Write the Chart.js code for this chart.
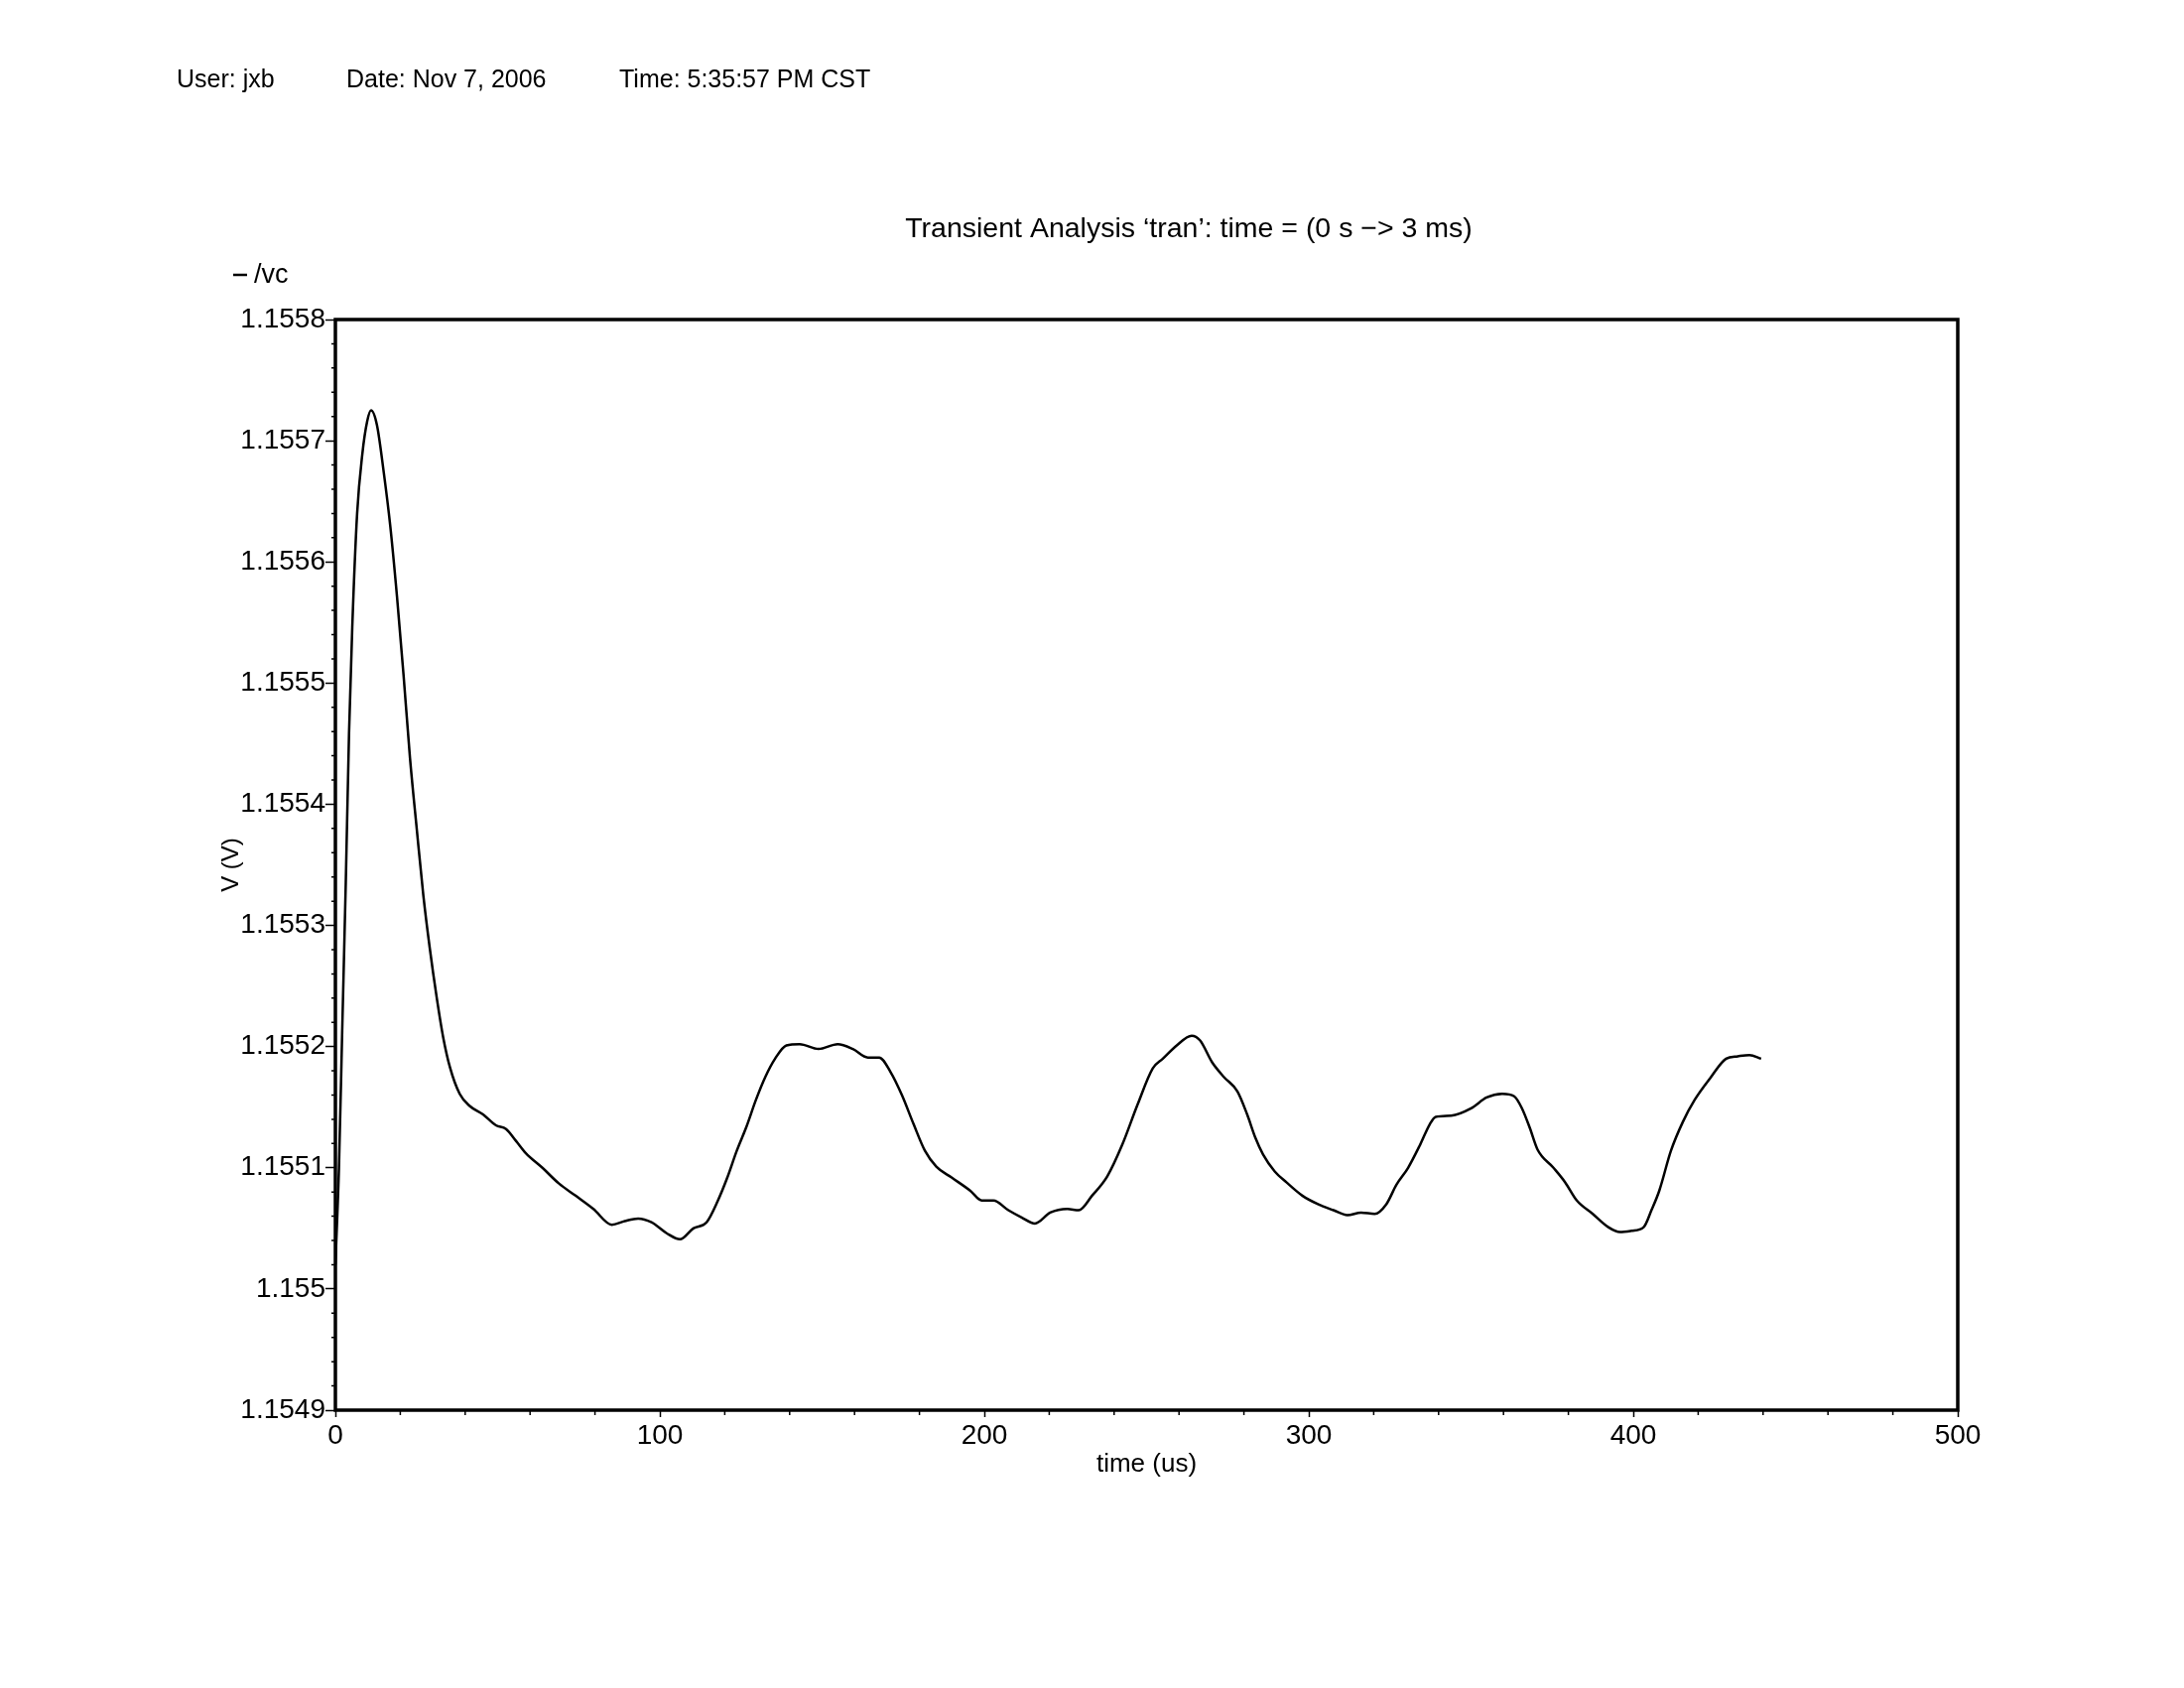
<!DOCTYPE html>
<html>
<head>
<meta charset="utf-8">
<title>Transient Analysis 'tran'</title>
<script src="https://cdn.jsdelivr.net/npm/chart.js@4.4.1/dist/chart.umd.min.js"></script>
<style>
	html, body { margin: 0; padding: 0; background: #fff; }
	canvas { display: block; }
</style>
</head>
<body>
<canvas id="tran-chart" width="2201" height="1701"></canvas>
<script>
// values: time in us, /vc in V
const timeUs = [
	0, 1.1, 2.1, 3.2, 4.2, 5.2, 6.7, 8.3, 9.8, 11.0, 12.8, 14.9, 16.9, 19.0, 21.0,
	23.0, 25.1, 27.1, 29.1, 31.2, 33.2, 35.3, 38.3, 41.4, 45.5, 49.5, 52.6, 55.7,
	58.7, 63.8, 68.9, 74.0, 79.5, 85.2, 89.2, 93.3, 97.4, 102.1, 106.2, 110.3,
	114.4, 117.9, 120.8, 123.7, 126.7, 129.6, 132.5, 135.5, 139, 143.1, 148.9,
	154.8, 159.5, 164.1, 167.6, 171.1, 174.6, 178.2, 181.7, 185.2, 189.9, 195.7,
	199.2, 202.8, 207.4, 211.5, 215.6, 220.3, 225.6, 229.1, 233.2, 237.9, 242.5,
	247.2, 251.9, 255.0, 259.3, 263.9, 266.5, 270.2, 273.8, 278, 281, 283.5,
	285.9, 289.5, 293.1, 298, 302.8, 307.6, 311.9, 316.1, 320.3, 323.9, 327,
	330.6, 334.3, 337.3, 339.1, 343.9, 350, 354.8, 359.6, 363.3, 365.7, 368.1,
	370.5, 375.4, 379, 382.6, 387.5, 392.3, 395.9, 399.5, 403.2, 405.6, 408,
	411.6, 415.3, 418.9, 423.7, 428.6, 432.2, 435.8, 439.4,
];
const vcVolts = [
	1.15502, 1.1551, 1.155213, 1.155335, 1.155458, 1.155546, 1.15564, 1.155689,
	1.155716, 1.155725, 1.155713, 1.155674, 1.15563, 1.155571, 1.155507,
	1.155438, 1.155379, 1.155325, 1.155281, 1.155241, 1.155208, 1.155183,
	1.155161, 1.155151, 1.155144, 1.155135, 1.155132, 1.155122, 1.155112,
	1.1551, 1.155087, 1.155077, 1.155066, 1.155053, 1.155056, 1.155058,
	1.155055, 1.155046, 1.155041, 1.15505, 1.155055, 1.155073, 1.155092,
	1.155114, 1.155134, 1.155156, 1.155175, 1.15519, 1.155201, 1.155202,
	1.155198, 1.155202, 1.155198, 1.155191, 1.155191, 1.155179, 1.15516,
	1.155136, 1.155114, 1.155101, 1.155092, 1.155081, 1.155073, 1.155073,
	1.155065, 1.155059, 1.155054, 1.155063, 1.155066, 1.155065, 1.155077,
	1.155093, 1.155119, 1.155152, 1.155182, 1.15519, 1.155201, 1.155209,
	1.155205, 1.155187, 1.155175, 1.155163, 1.155144, 1.155125, 1.155111,
	1.155097, 1.155088, 1.155077, 1.15507, 1.155065, 1.155061, 1.155063,
	1.155062, 1.15507, 1.155086, 1.1551, 1.155119, 1.155136, 1.155142,
	1.155143, 1.155149, 1.155158, 1.155161, 1.155159, 1.155149, 1.155133,
	1.155115, 1.1551, 1.155088, 1.155073, 1.155062, 1.155051, 1.155047,
	1.155048, 1.155051, 1.155065, 1.155081, 1.155114, 1.155138, 1.155156,
	1.155174, 1.15519, 1.155192, 1.155193, 1.15519,
];

const xTickValues = [0, 100, 200, 300, 400, 500];
const xTickLabels = ['0', '100', '200', '300', '400', '500'];
const yTickValues = [
	1.1549, 1.155, 1.1551, 1.1552, 1.1553, 1.1554, 1.1555, 1.1556, 1.1557, 1.1558,
];
const yTickLabels = [
	'1.1549', '1.155', '1.1551', '1.1552', '1.1553', '1.1554', '1.1555', '1.1556',
	'1.1557', '1.1558',
];
const headerTexts = ['User: jxb', 'Date: Nov 7, 2006', 'Time: 5:35:57 PM CST'];
const plotTitle = 'Transient Analysis \u2018tran\u2019: time = (0 s \u2212> 3 ms)';
const signalName = '/vc';

const FONT = '"Liberation Sans", Arial, Helvetica, sans-serif';

// frame, minor ticks, header, title and signal legend
const pageDecor = {
	id: 'pageDecor',
	afterDraw( chart ) {
		const { ctx, chartArea: area } = chart;
		const xScale = chart.scales.x;
		const yScale = chart.scales.y;
		ctx.save();

		ctx.strokeStyle = '#000';
		ctx.lineWidth = 3.5;
		ctx.strokeRect( area.left, area.top, area.right - area.left, area.bottom - area.top );

		// minor ticks: 5 per major step
		ctx.lineWidth = 1.5;
		ctx.beginPath();
		for ( let i = 0; i < yTickValues.length - 1; i++ ) {
			const step = ( yTickValues[ i + 1 ] - yTickValues[ i ] ) / 5;
			for ( let k = 1; k < 5; k++ ) {
				const py = yScale.getPixelForValue( yTickValues[ i ] + k * step );
				ctx.moveTo( area.left - 4, py );
				ctx.lineTo( area.left, py );
			}
		}
		for ( let i = 0; i < xTickValues.length - 1; i++ ) {
			const step = ( xTickValues[ i + 1 ] - xTickValues[ i ] ) / 5;
			for ( let k = 1; k < 5; k++ ) {
				const px = xScale.getPixelForValue( xTickValues[ i ] + k * step );
				ctx.moveTo( px, area.bottom );
				ctx.lineTo( px, area.bottom + 5 );
			}
		}
		ctx.stroke();

		ctx.fillStyle = '#000';
		ctx.textBaseline = 'alphabetic';
		ctx.textAlign = 'left';
		ctx.font = '25px ' + FONT;
		const headerX = [ 178, 349, 624 ];
		headerTexts.forEach( ( text, i ) => ctx.fillText( text, headerX[ i ], 88 ) );

		ctx.font = '28.5px ' + FONT;
		ctx.textAlign = 'center';
		ctx.fillText( plotTitle, 1198, 239 );

		// signal legend: line sample + name
		ctx.lineWidth = 2.5;
		ctx.beginPath();
		ctx.moveTo( 235, 277 );
		ctx.lineTo( 249, 277 );
		ctx.stroke();
		ctx.font = '27px ' + FONT;
		ctx.textAlign = 'left';
		ctx.fillText( signalName, 256, 285 );

		ctx.restore();
	},
};

const tranConfig = {
	type: 'line',
	data: {
		datasets: [
			{
				label: signalName,
				data: timeUs.map( ( t, i ) => ( { x: t, y: vcVolts[ i ] } ) ),
				borderColor: '#000',
				borderWidth: 2.5,
				pointRadius: 0,
				fill: false,
				cubicInterpolationMode: 'monotone',
			},
		],
	},
	options: {
		responsive: false,
		animation: false,
		layout: {
			padding: { left: 200, top: 322, right: 228, bottom: 200 },
		},
		plugins: {
			legend: { display: false },
			tooltip: { enabled: false },
		},
		scales: {
			x: {
				type: 'linear',
				min: 0,
				max: 500,
				afterBuildTicks: ( scale ) => {
					scale.ticks = xTickValues.map( ( value ) => ( { value } ) );
				},
				afterFit: ( scale ) => {
					scale.height = 80;
				},
				ticks: {
					autoSkip: false,
					maxRotation: 0,
					padding: 2,
					color: '#000',
					font: { family: FONT, size: 28 },
					callback: ( value, index ) => xTickLabels[ index ],
				},
				grid: {
					drawOnChartArea: false,
					tickLength: 7,
					tickWidth: 1.5,
					tickColor: '#000',
				},
				border: { display: false },
				title: {
					display: true,
					text: 'time (us)',
					color: '#000',
					font: { family: FONT, size: 26 },
					padding: { bottom: 10 },
				},
			},
			y: {
				type: 'linear',
				min: 1.1549,
				max: 1.1558,
				afterBuildTicks: ( scale ) => {
					scale.ticks = yTickValues.map( ( value ) => ( { value } ) );
				},
				afterFit: ( scale ) => {
					scale.width = 138;
				},
				ticks: {
					autoSkip: false,
					padding: 0,
					color: '#000',
					font: { family: FONT, size: 28 },
					callback: ( value, index ) => yTickLabels[ index ],
				},
				grid: {
					drawOnChartArea: false,
					tickLength: 10,
					tickWidth: 1.5,
					tickColor: '#000',
				},
				border: { display: false },
				title: {
					display: true,
					text: 'V (V)',
					color: '#000',
					font: { family: FONT, size: 24 },
					padding: { top: 19 },
				},
			},
		},
	},
	plugins: [ pageDecor ],
};

window.tranChart = new Chart( document.getElementById( 'tran-chart' ), tranConfig );
</script>
</body>
</html>
